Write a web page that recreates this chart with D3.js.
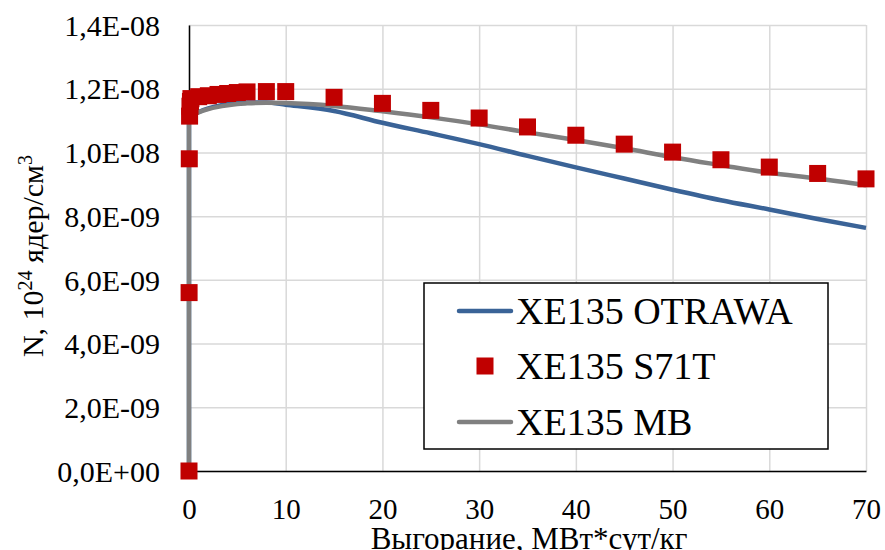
<!DOCTYPE html>
<html>
<head>
<meta charset="utf-8">
<script src="https://cdn.jsdelivr.net/npm/d3@7"></script>
<style>
  body { margin: 0; background: #fff; }
  .grid line { stroke: #d9d9d9; stroke-width: 1.5; }
  .grid path { display: none; }
</style>
</head>
<body>
<div id="chart"></div>
<script>
// burnup, MW*day/kg
var xTicks = [0, 10, 20, 30, 40, 50, 60, 70];
var yTicks = [0, 2e-9, 4e-9, 6e-9, 8e-9, 1.0e-8, 1.2e-8, 1.4e-8];

var seriesNames = ["XE135 OTRAWA", "XE135 S71T", "XE135 MB"];

// XE135 OTRAWA (line)
var otrawaX = [0, 0, 1, 2, 3, 4, 5, 6, 8, 10, 15, 20, 25, 30, 35, 40, 45, 50, 55, 60, 65, 70];
var otrawaY = [0, 11.12e-9, 11.27e-9, 11.38e-9, 11.46e-9, 11.52e-9, 11.55e-9, 11.57e-9, 11.57e-9, 11.50e-9,
               11.30e-9, 10.93e-9, 10.60e-9, 10.26e-9, 9.89e-9, 9.53e-9, 9.18e-9, 8.83e-9, 8.50e-9, 8.21e-9, 7.91e-9, 7.63e-9];

// XE135 S71T (markers)
var s71tX = [0, 0.01, 0.03, 0.06, 0.1, 0.15, 0.2, 1, 2, 3, 4, 5, 6, 8, 10, 15, 20, 25, 30, 35, 40, 45, 50, 55, 60, 65, 70];
var s71tY = [0, 5.6e-9, 9.8e-9, 11.14e-9, 11.45e-9, 11.60e-9, 11.69e-9, 11.75e-9, 11.78e-9, 11.82e-9, 11.85e-9, 11.88e-9,
             11.90e-9, 11.91e-9, 11.91e-9, 11.73e-9, 11.54e-9, 11.32e-9, 11.08e-9, 10.80e-9, 10.54e-9, 10.26e-9,
             10.01e-9, 9.77e-9, 9.54e-9, 9.34e-9, 9.17e-9];

// XE135 MB (line)
var mbX = [0, 0, 1, 2, 3, 4, 5, 6, 8, 10, 15, 20, 25, 30, 35, 40, 45, 50, 55, 60, 65, 70];
var mbY = [0, 11.12e-9, 11.26e-9, 11.36e-9, 11.43e-9, 11.48e-9, 11.52e-9, 11.54e-9, 11.56e-9, 11.55e-9,
           11.46e-9, 11.29e-9, 11.10e-9, 10.88e-9, 10.63e-9, 10.39e-9, 10.13e-9, 9.85e-9, 9.60e-9, 9.36e-9, 9.18e-9, 8.97e-9];

var colBlue = "#3a6397", colRed = "#c00000", colGray = "#808080";
var serif = "'Liberation Serif', 'Times New Roman', Tinos, 'DejaVu Serif', serif";

var margin = { top: 25, right: 19, bottom: 79, left: 189 },
    width = 885 - margin.left - margin.right,
    height = 550 - margin.top - margin.bottom;

var svg = d3.select("#chart").append("svg")
    .attr("width", 885)
    .attr("height", 550)
    .style("font-family", serif);

var g = svg.append("g")
    .attr("transform", "translate(" + margin.left + "," + margin.top + ")");

var x = d3.scaleLinear().domain([0, 70]).range([0, width]);
var y = d3.scaleLinear().domain([0, 1.4e-8]).range([height, 0]);

function sciComma(d) {
    if (d === 0) return "0,0E+00";
    var parts = d.toExponential(1).split("e");
    var e = +parts[1];
    return parts[0].replace(".", ",") + "E" + (e < 0 ? "-" : "+") + (Math.abs(e) < 10 ? "0" : "") + Math.abs(e);
}

//GRID
g.append("g")
    .attr("class", "grid")
    .attr("transform", "translate(0," + height + ")")
    .call(d3.axisBottom(x).tickValues(xTicks).tickSize(-height).tickFormat(""));
g.append("g")
    .attr("class", "grid")
    .call(d3.axisLeft(y).tickValues(yTicks).tickSize(-width).tickFormat(""));

//AXES
var xAxis = g.append("g")
    .attr("transform", "translate(0," + height + ")")
    .call(d3.axisBottom(x).tickValues(xTicks).tickSize(0).tickPadding(0).tickFormat(d3.format("d")));
xAxis.attr("font-family", null);
xAxis.select(".domain").attr("stroke", "#000").attr("stroke-width", 1.5);
xAxis.selectAll("text").attr("font-size", 29).attr("dy", null).attr("y", 48)
    .style("font-family", serif);

var yAxis = g.append("g")
    .call(d3.axisLeft(y).tickValues(yTicks).tickSize(0).tickFormat(sciComma));
yAxis.attr("font-family", null);
yAxis.select(".domain").attr("stroke", "#000").attr("stroke-width", 1.5);
yAxis.selectAll("text").attr("font-size", 30).attr("x", -29).attr("dy", "0.34em")
    .style("font-family", serif);

//LINES (vertical rise at zero burnup, then smoothed curve)
var smooth = d3.line()
    .x(function (d) { return x(d[0]); })
    .y(function (d) { return y(d[1]); })
    .curve(d3.curveMonotoneX);

function seriesPath(xs, ys) {
    var pts = d3.zip(xs, ys);
    var rest = smooth(pts.slice(1));
    return "M" + x(pts[0][0]) + "," + y(pts[0][1]) + "L" + rest.slice(1);
}

g.append("path")
    .attr("d", seriesPath(otrawaX, otrawaY))
    .attr("fill", "none")
    .attr("stroke", colBlue)
    .attr("stroke-width", 4.5)
    .attr("stroke-linejoin", "round");

g.append("path")
    .attr("d", seriesPath(mbX, mbY))
    .attr("fill", "none")
    .attr("stroke", colGray)
    .attr("stroke-width", 4.5)
    .attr("stroke-linejoin", "round");

var ms = 17;
g.selectAll(".pt")
    .data(d3.zip(s71tX, s71tY))
    .enter().append("rect")
    .attr("class", "pt")
    .attr("x", function (d) { return x(d[0]) - ms / 2; })
    .attr("y", function (d) { return y(d[1]) - ms / 2; })
    .attr("width", ms)
    .attr("height", ms)
    .attr("fill", colRed);

//AXIS TITLES
svg.append("text")
    .attr("x", 529)
    .attr("y", 549)
    .attr("text-anchor", "middle")
    .attr("font-size", 31)
    .text("Выгорание, МВт*сут/кг");

var yt = svg.append("text")
    .attr("transform", "translate(43,256) rotate(-90)")
    .attr("text-anchor", "middle")
    .attr("font-size", 30);
yt.append("tspan").text("N, 10");
yt.append("tspan").attr("font-size", 20).attr("dy", -11).text("24");
yt.append("tspan").attr("dy", 11).text(" ядер/см");
yt.append("tspan").attr("font-size", 20).attr("dy", -11).text("3");

//LEGEND
var lg = svg.append("g").attr("transform", "translate(424,283)");
lg.append("rect")
    .attr("width", 404)
    .attr("height", 166)
    .attr("fill", "#fff")
    .attr("stroke", "#000")
    .attr("stroke-width", 1.5);

var rowY = [28, 83, 139];
var colors = [colBlue, colRed, colGray];
seriesNames.forEach(function (name, i) {
    if (i === 1) {
        lg.append("rect")
            .attr("x", 61 - 8.5).attr("y", rowY[i] - 8.5)
            .attr("width", 17).attr("height", 17)
            .attr("fill", colors[i]);
    } else {
        lg.append("line")
            .attr("x1", 35).attr("x2", 87)
            .attr("y1", rowY[i]).attr("y2", rowY[i])
            .attr("stroke", colors[i])
            .attr("stroke-width", 4.5)
            .attr("stroke-linecap", "round");
    }
    lg.append("text")
        .attr("x", 92)
        .attr("y", rowY[i] + 13)
        .attr("font-size", 38)
        .text(name);
});
</script>
</body>
</html>
